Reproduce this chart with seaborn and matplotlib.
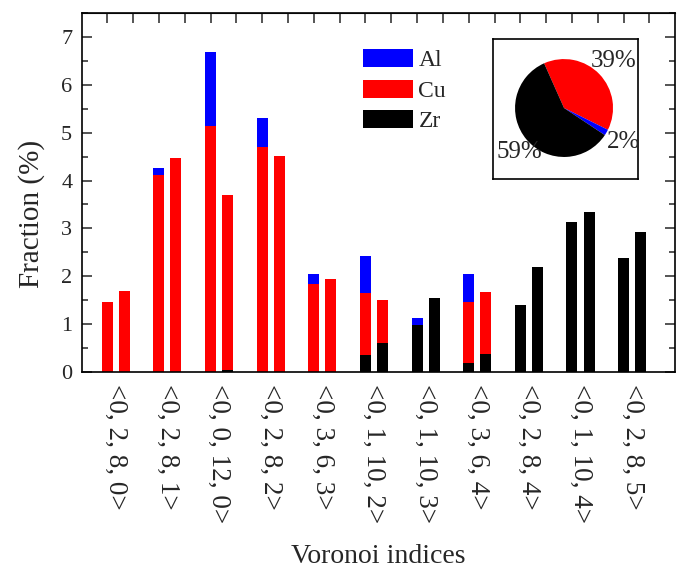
import numpy as np
import pandas as pd
import matplotlib
matplotlib.use("Agg")
import matplotlib.pyplot as plt
import seaborn as sns
from matplotlib.patches import Patch
from matplotlib.ticker import MultipleLocator

# ---------------- data ----------------
indices = ["<0, 2, 8, 0>", "<0, 2, 8, 1>", "<0, 0, 12, 0>", "<0, 2, 8, 2>",
           "<0, 3, 6, 3>", "<0, 1, 10, 2>", "<0, 1, 10, 3>", "<0, 3, 6, 4>",
           "<0, 2, 8, 4>", "<0, 1, 10, 4>", "<0, 2, 8, 5>"]
bars = ["left", "right"]
zr_left = [0, 0, 0, 0, 0, 0.36, 0.98, 0.18, 1.40, 3.13, 2.38]
cu_left = [1.47, 4.12, 5.14, 4.70, 1.84, 1.29, 0, 1.29, 0, 0, 0]
al_left = [0, 0.14, 1.54, 0.60, 0.21, 0.77, 0.14, 0.58, 0, 0, 0]
zr_right = [0, 0, 0.05, 0, 0, 0.61, 1.54, 0.38, 2.20, 3.34, 2.93]
cu_right = [1.70, 4.48, 3.64, 4.51, 1.95, 0.89, 0, 1.30, 0, 0, 0]
al_right = [0, 0, 0, 0, 0, 0, 0, 0, 0, 0, 0]
elements = ["Al", "Cu", "Zr"]
element_colors = ["#0000ff", "#ff0000", "#000000"]
pie_labels = ["Cu", "Al", "Zr"]
pie_values = [39, 2, 59]
pie_colors = ["#ff0000", "#0000ff", "#000000"]

rows = []
for i, idx in enumerate(indices):
    rows.append(dict(index=idx, bar="left", Zr=zr_left[i], Cu=cu_left[i], Al=al_left[i]))
    rows.append(dict(index=idx, bar="right", Zr=zr_right[i], Cu=cu_right[i], Al=al_right[i]))
df = pd.DataFrame(rows)
df["zr_top"] = df["Zr"]
df["cu_top"] = df["Zr"] + df["Cu"]
df["al_top"] = df["Zr"] + df["Cu"] + df["Al"]

# ---------------- style ----------------
sns.set_style("ticks")
plt.rcParams["font.family"] = ["Liberation Serif", "DejaVu Serif"]

fig = plt.figure(figsize=(6.86, 5.69), dpi=100)
ax = fig.add_axes([82 / 686, 1 - 372 / 569, 593 / 686, 359 / 569])

for col, color in [("al_top", element_colors[0]), ("cu_top", element_colors[1]),
                   ("zr_top", element_colors[2])]:
    sns.barplot(data=df, x="index", y=col, hue="bar", order=indices, hue_order=bars,
                palette=[color, color], width=0.66, gap=0.355, dodge=True,
                errorbar=None, legend=False, linewidth=0, saturation=1, ax=ax)

ax.set_xlim(-0.655, 10.83)
ax.set_ylim(0, 7.5)
ax.yaxis.set_major_locator(MultipleLocator(1))
ax.yaxis.set_minor_locator(MultipleLocator(0.5))
ax.tick_params(axis="y", which="major", direction="in", length=7, width=1.1,
               labelsize=16, pad=7, right=True)
ax.tick_params(axis="y", which="minor", direction="in", length=4, width=1.1, right=True)
ax.tick_params(axis="x", which="both", length=0, labelsize=19.5, pad=9)
plt.setp(ax.get_xticklabels(), rotation=270, ha="center", va="top")
for s in ax.spines.values():
    s.set_visible(True)
    s.set_linewidth(1.2)
    s.set_color("black")

top = ax.secondary_xaxis("top")
top.set_xticks(np.arange(-0.165, 10.5, 0.5))
top.set_xticklabels([])
top.tick_params(direction="in", length=7, width=1.1)

ax.set_ylabel("Fraction (%)", fontsize=21)
ax.yaxis.set_label_coords(-0.062, 0.44)
ax.set_xlabel("Voronoi indices", fontsize=20)
ax.xaxis.set_label_coords(0.5, -0.478)

handles = [Patch(facecolor=c, edgecolor="none", label=l)
           for l, c in zip(elements, element_colors)]
ax.legend(handles=handles, loc="upper left", bbox_to_anchor=(363 / 686, 1 - 49 / 569),
          bbox_transform=fig.transFigure, frameon=False, fontsize=17,
          handlelength=2.1, handleheight=0.8, handletextpad=0.25,
          labelspacing=0.35, borderpad=0, borderaxespad=0)

# ---------------- inset pie ----------------
ax_in = fig.add_axes([493 / 686, 1 - 179 / 569, 145 / 686, 140 / 569])
wedges, texts, autotexts = ax_in.pie(
    pie_values, colors=pie_colors, startangle=114, counterclock=False,
    autopct="%.0f%%", pctdistance=1.4, textprops=dict(fontsize=18),
    wedgeprops=dict(linewidth=0))
x59, y59 = autotexts[2].get_position()
autotexts[2].set_position((x59 + 0.15, y59))
ax_in.set_aspect("auto")
ax_in.set_xlim(-1.45, 1.51)
ax_in.set_ylim(-1.45, 1.41)
ax_in.set_frame_on(True)
for s in ax_in.spines.values():
    s.set_visible(True)
    s.set_linewidth(1.2)
    s.set_color("black")
ax_in.set_xticks([])
ax_in.set_yticks([])

fig.savefig("out.png", dpi=100)
